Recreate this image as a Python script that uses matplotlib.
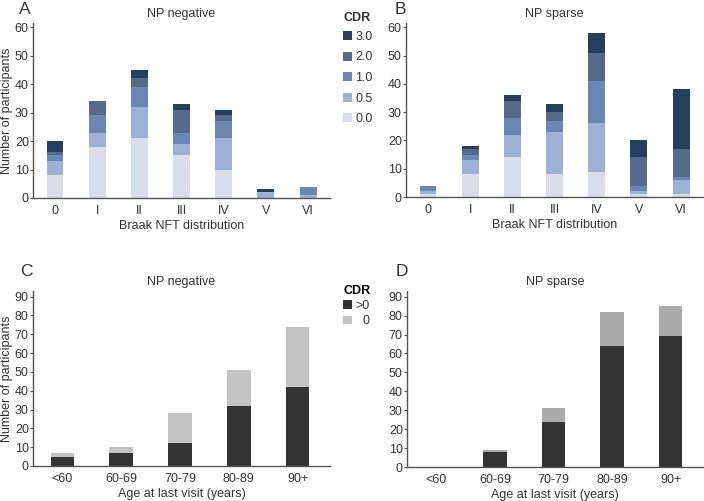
import numpy as np
import matplotlib
matplotlib.use('Agg')
import matplotlib.pyplot as plt

plt.rcParams['font.family'] = ['Liberation Sans', 'DejaVu Sans']

# Braak NFT stage data (CDR stacks, bottom to top: 0.0, 0.5, 1.0, 2.0, 3.0)
braak_stages = ['0', 'I', 'II', 'III', 'IV', 'V', 'VI']
cdr_levels = ['0.0', '0.5', '1.0', '2.0', '3.0']
neg_cdr00 = [8, 18, 21, 15, 10, 0, 0]
neg_cdr05 = [5, 5, 11, 4, 11, 2, 1]
neg_cdr10 = [2, 6, 7, 4, 6, 0, 3]
neg_cdr20 = [1, 5, 3, 8, 2, 0, 0]
neg_cdr30 = [4, 0, 3, 2, 2, 1, 0]

sp_cdr00 = [1, 8, 14, 8, 9, 1, 1]
sp_cdr05 = [1, 5, 8, 15, 17, 1, 5]
sp_cdr10 = [2, 2, 6, 4, 15, 2, 1]
sp_cdr20 = [0, 2, 6, 3, 10, 10, 10]
sp_cdr30 = [0, 1, 2, 3, 7, 6, 21]

# Age at last visit data
age_groups = ['<60', '60-69', '70-79', '80-89', '90+']
neg_cdr_pos = [5, 7, 12, 32, 42]
neg_cdr_zero = [2, 3, 16, 19, 32]
sp_cdr_pos = [0, 8, 24, 64, 69]
sp_cdr_zero = [0, 1, 7, 18, 16]

cdr_colors = ['#d9dde9', '#9db0d6', '#6c86b3', '#566b8c', '#253f5e']
ink = '#333333'
fs = 9


def style_axes(ax):
    for s in ['top', 'right']:
        ax.spines[s].set_visible(False)
    for s in ['left', 'bottom']:
        ax.spines[s].set_color('#555555')
        ax.spines[s].set_linewidth(1.0)
    ax.tick_params(axis='y', length=2, width=0.8, colors='#555555',
                   labelcolor=ink, labelsize=fs, pad=1)
    ax.tick_params(axis='x', length=0, labelcolor=ink, labelsize=fs, pad=5)


def stacked(ax, cats, stacks, colors, labels, width=0.4):
    x = np.arange(len(cats))
    bottom = np.zeros(len(cats))
    bars = []
    for vals, c, lab in zip(stacks, colors, labels):
        b = ax.bar(x, vals, width, bottom=bottom, color=c, label=lab,
                   edgecolor='none')
        bars.append(b)
        bottom += np.array(vals)
    ax.set_xticks(x)
    ax.set_xticklabels(cats)
    return bars


fig = plt.figure(figsize=(7.04, 5.01), dpi=100)
W, H = 704, 501


def add_ax(left, right, top, bottom):
    return fig.add_axes([left / W, 1 - bottom / H, (right - left) / W,
                         (bottom - top) / H])


axA = add_ax(33, 330, 23, 198)
axB = add_ax(406, 703, 23, 197)
axC = add_ax(33, 330, 291, 466)
axD = add_ax(407, 703, 291, 467)

barsA = stacked(axA, braak_stages,
                [neg_cdr00, neg_cdr05, neg_cdr10, neg_cdr20, neg_cdr30],
                cdr_colors, cdr_levels)
stacked(axB, braak_stages,
        [sp_cdr00, sp_cdr05, sp_cdr10, sp_cdr20, sp_cdr30],
        cdr_colors, cdr_levels)
barsC = stacked(axC, age_groups, [neg_cdr_pos, neg_cdr_zero],
                [ink, '#c3c3c3'], ['>0', '0'])
stacked(axD, age_groups, [sp_cdr_pos, sp_cdr_zero],
        [ink, '#ababab'], ['>0', '0'])

for ax in (axA, axB):
    ax.set_xlim(-0.52, 6.52)
    ax.set_ylim(0, 61.5)
    ax.set_yticks(range(0, 61, 10))
    style_axes(ax)
    ax.set_xlabel('Braak NFT distribution', fontsize=fs, color=ink,
                  labelpad=2)
for ax in (axC, axD):
    ax.set_xlim(-0.5, 4.55)
    ax.set_ylim(0, 93)
    ax.set_yticks(range(0, 91, 10))
    style_axes(ax)
    ax.set_xlabel('Age at last visit (years)', fontsize=fs, color=ink,
                  labelpad=2)

axA.set_ylabel('Number of participants', fontsize=fs, color=ink, labelpad=1)
axC.set_ylabel('Number of participants', fontsize=fs, color=ink, labelpad=1)

for ax, title in zip((axA, axB, axC, axD),
                     ['NP negative', 'NP sparse', 'NP negative', 'NP sparse']):
    ax.set_title(title, fontsize=fs, color=ink, pad=4)

for letter, (px, py) in zip('ABCD', [(19, 9), (395, 9), (20, 271), (396, 271)]):
    fig.text(px / W, 1 - py / H, letter, fontsize=12.5, color=ink,
             ha='left', va='center')

# legends
fig.text(343 / W, 1 - 18 / H, 'CDR', fontsize=fs, fontweight='bold',
         color=ink, ha='left', va='center')
leg1 = fig.legend(handles=barsA[::-1], labels=cdr_levels[::-1],
                  loc='upper left', bbox_to_anchor=(338 / W, 1 - 26 / H),
                  frameon=False, fontsize=fs,
                  handlelength=0.7, handleheight=0.7, handletextpad=0.3,
                  labelspacing=0.68, borderaxespad=0)
for t in leg1.get_texts():
    t.set_color(ink)

leg2 = fig.legend(handles=barsC, labels=['>0', '0'],
                  loc='upper left', bbox_to_anchor=(338 / W, 1 - 280 / H),
                  frameon=False, title='CDR', fontsize=fs,
                  handlelength=0.7, handleheight=0.7, handletextpad=0.3,
                  labelspacing=0.25, alignment='left', borderaxespad=0)
leg2.get_title().set_fontweight('bold')
leg2.get_title().set_fontsize(fs)
leg2.get_texts()[1].set_text('  0')
for t in leg2.get_texts():
    t.set_color(ink)

fig.savefig('out.png', dpi=100)
